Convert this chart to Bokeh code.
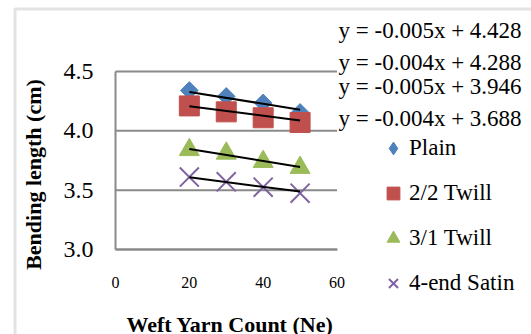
import numpy as np
from bokeh.plotting import figure
from bokeh.models import (Range1d, FixedTicker, NumeralTickFormatter, Label,
                          Legend, LegendItem, BoxAnnotation)
from bokeh.embed import file_html
from bokeh.resources import INLINE

# Weft yarn count (Ne) and measured bending length (cm) for each weave
weft_counts = [20, 30, 40, 50]
weave_names = ["Plain", "2/2 Twill", "3/1 Twill", "4-end Satin"]
plain = [4.34, 4.29, 4.235, 4.155]
twill_22 = [4.21, 4.16, 4.11, 4.07]
twill_31 = [3.84, 3.81, 3.74, 3.69]
satin_4end = [3.61, 3.57, 3.525, 3.475]

# Linear trendline coefficients (y = slope * x + intercept)
trend_slopes = [-0.005, -0.004, -0.005, -0.004]
trend_intercepts = [4.428, 4.288, 3.946, 3.688]

x_ticks = [0, 20, 40, 60]
y_ticks = [3.0, 3.5, 4.0, 4.5]

SERIF = "Liberation Serif"
GRID = "#8a8a8a"
colors = ["#4F81BD", "#C0504D", "#9BBB59", "#8064A2"]

# Page geometry (px): canvas size and the plot-area box inside it
CW, CH = 531, 334
AX_L, AX_R, AX_T, AX_B = 115, 336.5, 71, 249
ppx = (AX_R - AX_L) / (x_ticks[-1] - x_ticks[0])
ppy = (AX_B - AX_T) / (y_ticks[-1] - y_ticks[0])


def sx(px):
    return px


def sy(py):
    return CH - py


x_range = Range1d(x_ticks[0] - AX_L / ppx, x_ticks[-1] + (CW - AX_R) / ppx)
y_range = Range1d(y_ticks[0] - (CH - AX_B) / ppy, y_ticks[-1] + AX_T / ppy)

p = figure(width=CW, height=CH, x_range=x_range, y_range=y_range,
           output_backend="svg", toolbar_location=None,
           min_border_left=0, min_border_right=0, min_border_top=0, min_border_bottom=0)
p.outline_line_color = None
p.background_fill_color = "white"
p.border_fill_color = "white"
p.xgrid.visible = False
p.ygrid.visible = False

# chart-area frame; its right and bottom edges run past the page
p.add_layout(BoxAnnotation(left=sx(14.5), right=sx(CW + 20), top=sy(8.5), bottom=sy(CH + 20),
                           left_units="screen", right_units="screen",
                           top_units="screen", bottom_units="screen",
                           fill_alpha=0, line_color="#a3a3a3", line_width=3))

# horizontal gridlines across the plot area
p.segment(x0=x_ticks[0], x1=x_ticks[-1], y0=y_ticks, y1=y_ticks,
          line_color=GRID, line_width=2)

for ax in (p.xaxis[0], p.yaxis[0]):
    ax.axis_line_color = GRID
    ax.axis_line_width = 2
    ax.major_tick_line_color = None
    ax.minor_tick_line_color = None
    ax.major_tick_out = 0
    ax.major_tick_in = 0
    ax.major_label_text_font = SERIF
    ax.major_label_text_color = "black"

p.xaxis.fixed_location = y_ticks[0]
p.xaxis.bounds = (x_ticks[0], x_ticks[-1])
p.xaxis.ticker = FixedTicker(ticks=x_ticks)
p.xaxis.major_label_text_font_size = "16px"
p.xaxis.major_label_standoff = 27

p.yaxis.fixed_location = x_ticks[0]
p.yaxis.bounds = (y_ticks[0], y_ticks[-1])
p.yaxis.ticker = FixedTicker(ticks=y_ticks)
p.yaxis.formatter = NumeralTickFormatter(format="0.0")
p.yaxis.major_label_text_font_size = "24px"
p.yaxis.major_label_standoff = 22

# data markers
r_plain = p.scatter(weft_counts, plain, marker="square", angle=np.pi / 4, size=12.5,
                    fill_color=colors[0], line_color=colors[0])
r_22 = p.scatter(weft_counts, twill_22, marker="square", size=20,
                 fill_color=colors[1], line_color=colors[1])
r_31 = p.scatter(weft_counts, twill_31, marker="triangle", size=20,
                 fill_color=colors[2], line_color=colors[2])
r_sat = p.scatter(weft_counts, satin_4end, marker="x", size=27,
                  line_color=colors[3], line_width=2)

# hidden diamond renderer, used only as the legend key of the plain weave
r_plain_key = p.scatter(weft_counts, plain, marker="diamond", visible=False,
                        fill_color=colors[0], line_color=colors[0])

# trendlines and their equations
x_fit = [min(weft_counts), max(weft_counts)]
eq_rows = [30, 61.5, 85.5, 118]
for s, b, row in zip(trend_slopes, trend_intercepts, eq_rows):
    p.line(x_fit, [s * x + b for x in x_fit], line_color="black", line_width=2)
    p.add_layout(Label(x=sx(338), y=sy(row), x_units="screen", y_units="screen",
                       text=f"y = {s:.3f}x + {b:.3f}",
                       text_font=SERIF, text_font_size="23px", text_color="black",
                       text_align="left", text_baseline="middle"))

legend = Legend(items=[LegendItem(label=n, renderers=[r])
                       for n, r in zip(weave_names, [r_plain_key, r_22, r_31, r_sat])],
                location=(sx(377), sy(300)), orientation="vertical",
                glyph_width=32, glyph_height=34, label_standoff=0, spacing=11,
                padding=0, margin=0, border_line_color=None, background_fill_alpha=0,
                inactive_fill_alpha=0,
                label_text_font=SERIF, label_text_font_size="23px",
                label_text_color="black")
p.add_layout(legend)

# axis titles
p.add_layout(Label(x=sx(33), y=sy(174), x_units="screen", y_units="screen",
                   text="Bending length (cm)", angle=np.pi / 2,
                   text_font=SERIF, text_font_size="22px", text_font_style="bold",
                   text_align="center", text_baseline="middle", text_color="black"))
p.add_layout(Label(x=sx(229.5), y=sy(324), x_units="screen", y_units="screen",
                   text="Weft Yarn Count (Ne)",
                   text_font=SERIF, text_font_size="22px", text_font_style="bold",
                   text_align="center", text_baseline="middle", text_color="black"))

open("out.html", "w").write(file_html(p, INLINE))
